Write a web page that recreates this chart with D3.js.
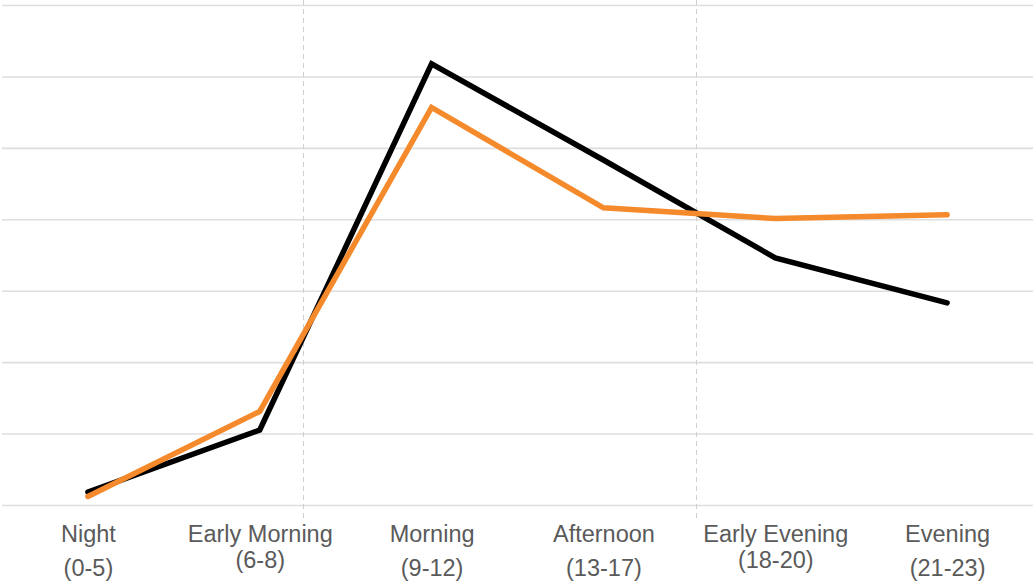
<!DOCTYPE html>
<html>
<head>
<meta charset="utf-8">
<script src="https://cdn.jsdelivr.net/npm/d3@7"></script>
<style>
  html, body { margin: 0; padding: 0; background: #fff; }
  svg { display: block; }
</style>
</head>
<body>
<svg id="chart" width="1035" height="585"></svg>
<script>
// ---- data ----
const categories = ["Night", "Early Morning", "Morning", "Afternoon", "Early Evening", "Evening"];
const categoryHours = ["(0-5)", "(6-8)", "(9-12)", "(13-17)", "(18-20)", "(21-23)"];
const seriesBlack = [0.36, 2.10, 12.35, 9.66, 6.92, 5.66];
const seriesOrange = [0.24, 2.62, 11.13, 8.32, 8.02, 8.13];
const yTicks = [0, 2, 4, 6, 8, 10, 12, 14];
const markerPositions = [1.25, 3.54]; // vertical dashed markers, in category-index units
const tightLabels = ["Early Morning", "Early Evening"];

// ---- layout ----
(function () {
const mLeft = 2, mRight = 1033, mTop = 5, mBottom = 505;
const svg = d3.select("#chart");

const x = d3.scalePoint().domain(categories).range([mLeft, mRight]).padding(0.5);
const xIdx = d3.scaleLinear().domain([0, categories.length - 1])
  .range([x(categories[0]), x(categories[categories.length - 1])]);
const y = d3.scaleLinear().domain([0, 14]).range([mBottom, mTop]);

// horizontal gridlines via axis
const gAxis = svg.append("g")
  .attr("transform", `translate(${mLeft},0)`)
  .call(d3.axisRight(y).tickValues(yTicks).tickSize(mRight - mLeft).tickFormat(""));
gAxis.select(".domain").remove();
gAxis.selectAll(".tick line").attr("stroke", "#dedede").attr("stroke-width", 1.6);

// vertical dashed markers
svg.append("g").selectAll("line").data(markerPositions).join("line")
  .attr("x1", d => Math.round(xIdx(d)) + 0.5)
  .attr("x2", d => Math.round(xIdx(d)) + 0.5)
  .attr("y1", 0).attr("y2", 518)
  .attr("stroke", "#cfcfcf").attr("stroke-width", 1)
  .attr("stroke-dasharray", "5,4");

// lines
const line = d3.line().x((d, i) => x(categories[i])).y(d => y(d));
svg.append("path").datum(seriesBlack)
  .attr("d", line).attr("fill", "none")
  .attr("stroke", "#000").attr("stroke-width", 5.5)
  .attr("stroke-linejoin", "miter").attr("stroke-linecap", "round");
svg.append("path").datum(seriesOrange)
  .attr("d", line).attr("fill", "none")
  .attr("stroke", "#f58a2c").attr("stroke-width", 5.5)
  .attr("stroke-linejoin", "miter").attr("stroke-linecap", "round");

// x labels
const xAxis = svg.append("g")
  .attr("transform", `translate(0,${mBottom})`)
  .call(d3.axisBottom(x).tickSize(0).tickFormat(""));
xAxis.select(".domain").remove();
xAxis.selectAll(".tick").each(function(d, i) {
  const t = d3.select(this).append("text")
    .attr("text-anchor", "middle")
    .attr("fill", "#5a5a5a")
    .style("font-family", "'Liberation Sans', Arial, Helvetica, sans-serif")
    .style("font-size", "23.5px");
  t.append("tspan").attr("x", 0).attr("y", 37).text(d);
  const tight = tightLabels.includes(d);
  t.append("tspan").attr("x", 0).attr("y", tight ? 63 : 71).text(categoryHours[i]);
});
})();
</script>
</body>
</html>
